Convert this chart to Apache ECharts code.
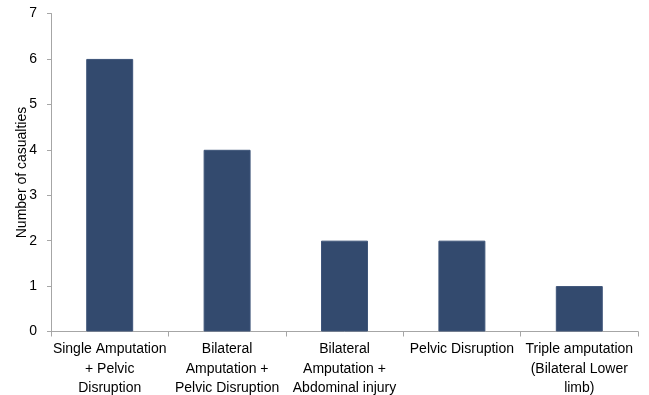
<!DOCTYPE html>
<html><head><meta charset="utf-8">
<script src="https://cdn.jsdelivr.net/npm/echarts@6/dist/echarts.min.js"></script>
<style>html,body{margin:0;padding:0;background:#fff}#c{width:649px;height:395px}</style>
</head><body><div id="c"></div>
<script>
const categories = [
  "Single Amputation\n+ Pelvic\nDisruption",
  "Bilateral\nAmputation +\nPelvic Disruption",
  "Bilateral\nAmputation +\nAbdominal injury",
  "Pelvic Disruption",
  "Triple amputation\n(Bilateral Lower\nlimb)"
];
const casualties = [6, 4, 2, 2, 1];
const yTicks = [0, 1, 2, 3, 4, 5, 6, 7];

const chart = echarts.init(document.getElementById('c'), null, {renderer: 'canvas'});
chart.setOption({
  animation: false,
  grid: {left: 51, right: 11, top: 13.5, bottom: 63.5, containLabel: false, outerBoundsMode: 'none'},
  xAxis: {
    type: 'category',
    data: categories,
    axisLine: {lineStyle: {color: '#a6a6a6', width: 1}},
    axisTick: {show: true, length: 5, lineStyle: {color: '#a6a6a6'}},
    axisLabel: {
      interval: 0, color: '#000', fontFamily: 'Liberation Sans, Arial, sans-serif',
      fontSize: 14, lineHeight: 19.5, margin: 8
    }
  },
  yAxis: {
    type: 'value', min: yTicks[0], max: yTicks[yTicks.length - 1], interval: 1,
    name: 'Number of casualties', nameLocation: 'middle', nameGap: 22, nameRotate: 90,
    nameMoveOverlap: false,
    nameTextStyle: {color: '#000', fontFamily: 'Liberation Sans, Arial, sans-serif', fontSize: 14},
    axisLine: {show: true, lineStyle: {color: '#a6a6a6', width: 1}},
    axisTick: {show: true, length: 4, lineStyle: {color: '#a6a6a6'}},
    splitLine: {show: false},
    axisLabel: {color: '#000', fontFamily: 'Liberation Sans, Arial, sans-serif', fontSize: 14, margin: 14}
  },
  series: [{
    type: 'bar',
    data: casualties,
    barWidth: '40%',
    itemStyle: {color: '#334a6e', borderColor: '#3e5579', borderWidth: 1}
  }]
});
</script></body></html>
